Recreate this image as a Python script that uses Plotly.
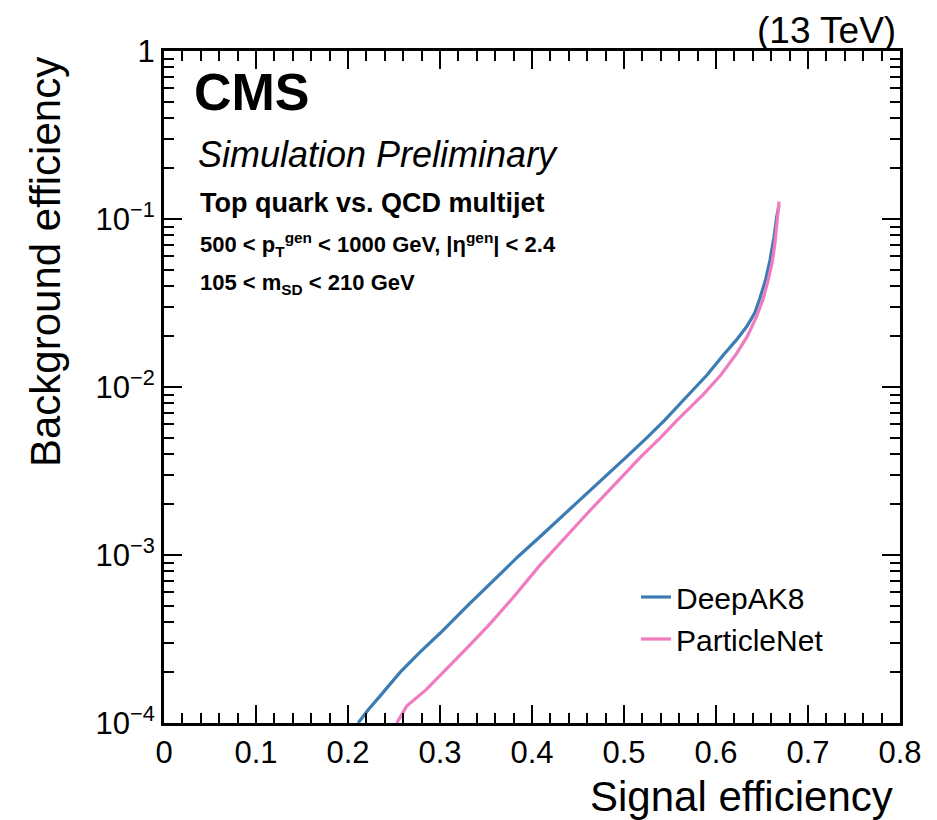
import plotly.graph_objects as go

# ---- data ----
deepak8_sig = [0.211, 0.222, 0.235, 0.2565, 0.278, 0.300, 0.330, 0.3616, 0.385, 0.4087, 0.4522, 0.478,
               0.503, 0.525, 0.5446, 0.568, 0.590, 0.608, 0.622, 0.6334, 0.642, 0.6478, 0.654, 0.6587,
               0.663, 0.666, 0.6685]
deepak8_bkg = [1.0e-4, 1.20e-4, 1.45e-4, 2.0e-4, 2.63e-4, 3.42e-4, 5.0e-4, 7.4e-4, 9.8e-4, 1.285e-3, 2.12e-3, 2.88e-3,
               3.85e-3, 5.0e-3, 6.37e-3, 8.75e-3, 1.175e-2, 1.55e-2, 1.9e-2, 2.29e-2, 2.75e-2, 3.39e-2, 4.37e-2, 5.7e-2,
               7.76e-2, 0.103, 0.121]

particlenet_sig = [0.253, 0.2638, 0.285, 0.3073, 0.330, 0.3543, 0.380, 0.4087, 0.435, 0.463, 0.490, 0.5174,
                   0.540, 0.5573, 0.586, 0.605, 0.6225, 0.634, 0.644, 0.651, 0.6568, 0.661, 0.6641, 0.6665, 0.6685]
particlenet_bkg = [1.0e-4, 1.26e-4, 1.58e-4, 2.09e-4, 2.82e-4, 3.89e-4, 5.62e-4, 8.7e-4, 1.26e-3, 1.84e-3, 2.63e-3, 3.8e-3,
                   5.01e-3, 6.31e-3, 9.02e-3, 1.175e-2, 1.585e-2, 2.0e-2, 2.62e-2, 3.31e-2, 4.34e-2, 5.5e-2, 7.16e-2, 9.55e-2, 0.127]

x_tickvals = [0, 0.1, 0.2, 0.3, 0.4, 0.5, 0.6, 0.7, 0.8]
x_ticktext = ["0", "0.1", "0.2", "0.3", "0.4", "0.5", "0.6", "0.7", "0.8"]
y_tickvals = [1e-4, 1e-3, 1e-2, 1e-1, 1]
y_ticktext = ["10<sup>−4</sup>", "10<sup>−3</sup>", "10<sup>−2</sup>", "10<sup>−1</sup>", "1"]
y_minorvals = [m * 10.0 ** e for e in (-4, -3, -2, -1) for m in range(2, 10)]

FONT = "Liberation Sans, Arial, Helvetica, sans-serif"
BLUE = "#3a7cb3"
PINK = "#f07cbf"

fig = go.Figure()
fig.add_trace(go.Scatter(x=deepak8_sig, y=deepak8_bkg, mode="lines", name="DeepAK8",
                         line=dict(color=BLUE, width=3.2)))
fig.add_trace(go.Scatter(x=particlenet_sig, y=particlenet_bkg, mode="lines", name="ParticleNet",
                         line=dict(color=PINK, width=3.2)))

axis_common = dict(showline=True, linecolor="black", linewidth=3, mirror="allticks",
                   ticks="inside", tickcolor="black", tickwidth=2, showgrid=False,
                   zeroline=False, tickfont=dict(family=FONT, size=31, color="black"))

fig.update_xaxes(range=[0, 0.8], tickmode="array", tickvals=x_tickvals, ticktext=x_ticktext,
                 ticklen=18, minor=dict(ticks="inside", dtick=0.02, ticklen=10, tickwidth=2,
                                        tickcolor="black", showgrid=False),
                 **axis_common)
fig.update_yaxes(type="log", range=[-4, 0], tickmode="array", tickvals=y_tickvals, ticktext=y_ticktext,
                 ticklen=18, minor=dict(ticks="inside", tickmode="array", tickvals=y_minorvals,
                                        ticklen=10, tickwidth=2, tickcolor="black", showgrid=False),
                 **axis_common)

ann = []
def txt(x, y, text, size, xanchor="left", yanchor="middle", angle=0):
    ann.append(dict(x=x, y=y, xref="paper", yref="paper", text=text, showarrow=False,
                    xanchor=xanchor, yanchor=yanchor, textangle=angle,
                    font=dict(family=FONT, size=size, color="black")))

# page has an 8px body margin; plot area on the page spans x 164..900, y 51..723
OFF = 8
W, H = 736.0, 672.0
L, T = 164.0, 51.0
def px(xp): return (xp - L) / W
def py(yp): return (T + H - yp) / H

txt(px(192), py(92), "<b>CMS</b>", 52)
txt(px(196), py(154), "<i>Simulation Preliminary</i>", 36)
txt(px(198), py(203), "<b>Top quark vs. QCD multijet</b>", 27)
txt(px(198), py(245), "<b>500 &lt; p<sub>T</sub><sup>gen</sup> &lt; 1000 GeV, |η<sup>gen</sup>| &lt; 2.4</b>", 22)
txt(px(198), py(284), "<b>105 &lt; m<sub>SD</sub> &lt; 210 GeV</b>", 22)
txt(px(898), py(OFF + 0.5), "(13 TeV)", 37, xanchor="right", yanchor="top")
txt(px(895), py(796), "Signal efficiency", 42, xanchor="right")
txt(px(45), py(55), "Background efficiency", 42, xanchor="center", yanchor="top", angle=-90)

fig.update_layout(
    width=937, height=820,
    margin=dict(l=L - OFF, r=937 - (L + W - OFF), t=T - OFF, b=820 - (T + H - OFF)),
    paper_bgcolor="white", plot_bgcolor="white",
    font=dict(family=FONT, color="black"),
    showlegend=True,
    legend=dict(x=px(636), y=py(571), xanchor="left", yanchor="top",
                bgcolor="rgba(0,0,0,0)", font=dict(family=FONT, size=30, color="black")),
    annotations=ann,
)

fig.write_html("out.html")
